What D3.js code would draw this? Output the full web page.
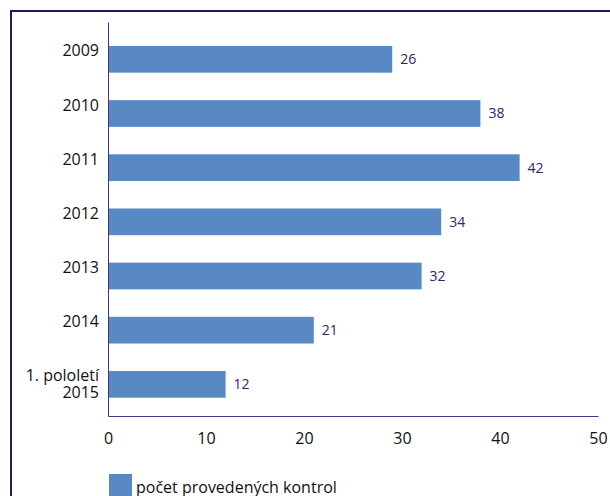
<!DOCTYPE html>
<html>
<head>
<meta charset="utf-8">
<script src="https://cdn.jsdelivr.net/npm/d3@7"></script>
<style>
  body { margin: 0; background: #fff; }
  svg { display: block; font-family: "Open Sans", sans-serif; }
  .axis path { stroke: #3d3585; }
  .axis text { fill: #111; font-size: 16px; font-family: "Open Sans", sans-serif; }
  .vlabel { fill: #2e2566; font-size: 14px; }
</style>
</head>
<body>
<div id="chart"></div>
<script>
// categories (top to bottom), "\n" marks a line break in the label
var categories = ["2009", "2010", "2011", "2012", "2013", "2014", "1. pololetí\n2015"];
// bar lengths as drawn in the picture
var barValues = [29, 38, 42, 34, 32, 21, 12];
// data labels printed next to the bars
var valueLabels = ["26", "38", "42", "34", "32", "21", "12"];
var xTicks = [0, 10, 20, 30, 40, 50];
var seriesName = "počet provedených kontrol";

const W = 610, H = 496;
const barColor = "#5889c2",
      navy = "#231a5a";

var svg = d3.select("#chart")
  .append("svg")
  .attr("width", W)
  .attr("height", H);

// outer frame, clipped by the window on the right and bottom
svg.append("path")
  .attr("d", "M11," + (H + 5) + "V11H" + (W + 5))
  .attr("fill", "none")
  .attr("stroke", navy)
  .attr("stroke-width", 2);

var x = d3.scaleLinear()
  .domain([0, 50])
  .range([108, 598]);

var y = d3.scaleBand()
  .domain(categories)
  .range([22, 416])
  .paddingInner(0.507)
  .paddingOuter(0.39)
  .align(0.567);

var xAxis = d3.axisBottom(x)
  .tickValues(xTicks)
  .tickSize(0)
  .tickPadding(17)
  .tickFormat(d3.format("d"));

var yAxis = d3.axisLeft(y)
  .tickSize(0)
  .tickPadding(9);

svg.selectAll(".bar").data(categories)
  .enter().append("rect")
  .attr("class", "bar")
  .attr("x", x(0))
  .attr("y", function(d) {return y(d);})
  .attr("width", function(d, i) {return x(barValues[i]) - x(0);})
  .attr("height", y.bandwidth())
  .style("fill", barColor);

svg.append("g")
  .attr("class", "axis axis-x")
  .attr("transform", "translate(0,416)")
  .call(xAxis);

var gy = svg.append("g")
  .attr("class", "axis axis-y")
  .attr("transform", "translate(108,0)")
  .call(yAxis);

// multi-line category labels
gy.selectAll(".tick text").each(function(d) {
  var t = d3.select(this);
  var lines = d.split("\n");
  t.text(null).attr("dy", null);
  lines.forEach(function(line, i) {
    t.append("tspan")
      .attr("x", -9)
      .attr("dy", i == 0 ? "-0.18em" : "1.03em")
      .text(line);
  });
});

svg.selectAll(".vlabel").data(categories)
  .enter().append("text")
  .attr("class", "vlabel")
  .attr("x", function(d, i) {return x(barValues[i]) + 8;})
  .attr("y", function(d) {return y(d) + y.bandwidth() / 2;})
  .attr("dy", "0.35em")
  .text(function(d, i) {return valueLabels[i];});

// legend
var legend = svg.append("g")
  .attr("transform", "translate(109,474)");
legend.append("rect")
  .attr("width", 23)
  .attr("height", 23)
  .style("fill", barColor);
legend.append("text")
  .attr("x", 27)
  .attr("y", 19)
  .style("font-size", "16px")
  .style("fill", "#111")
  .text(seriesName);
</script>
</body>
</html>
